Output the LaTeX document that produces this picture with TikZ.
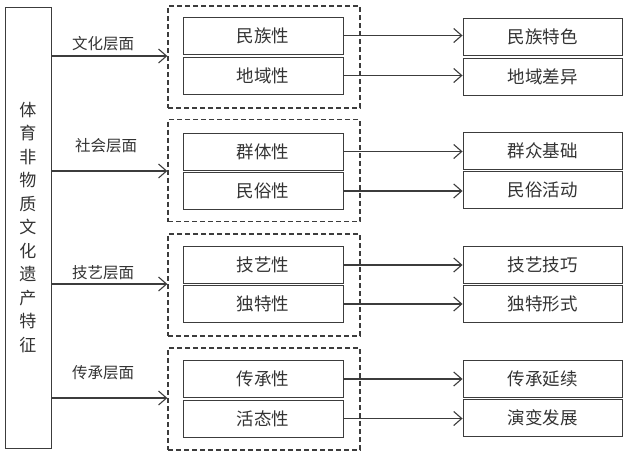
\documentclass[tikz,border=0pt]{standalone}
\usepackage{fontspec}
\newfontfamily\cjk{Noto Sans CJK SC}
\usetikzlibrary{arrows.meta}
\definecolor{ln}{HTML}{3C3C3C}
\definecolor{tx}{HTML}{333333}
\tikzset{
  box/.style={draw=ln, line width=0.9pt, minimum width=160pt, minimum height=37pt, inner sep=0pt,
    font=\cjk\fontsize{17.5}{20}\selectfont, text=tx},
  grp/.style={draw=ln, line width=1.3pt, dash pattern=on 5pt off 3pt, minimum width=192pt, minimum height=102pt, inner sep=0pt},
  arr/.style={draw=ln, line width=1.1pt, -{Straight Barb[length=8pt,width=14pt,line width=1.1pt]}},
  lab/.style={font=\cjk\fontsize{15.5}{18}\selectfont, text=tx, inner sep=0pt}
}
\begin{document}
\begin{tikzpicture}[x=1pt,y=-1pt]
\useasboundingbox (0,0) rectangle (624,453);
\node[draw=ln, line width=0.9pt, minimum width=46pt, minimum height=441pt, inner sep=0pt,
  font=\cjk\fontsize{17}{23.5}\selectfont, text=tx, align=center] (main) at (28,227.5)
  {体\\育\\非\\物\\质\\文\\化\\遗\\产\\特\\征};
% groups
\node[grp] (g1) at (264,57) {};
\node[grp] (g2) at (264,170.5) {};
\node[grp] (g3) at (264,285) {};
\node[grp] (g4) at (264,399) {};
% inner boxes
\node[box] (a1) at (263,35.5) {民族性};
\node[box] (a2) at (263,75.5) {地域性};
\node[box] (b1) at (263,151.5) {群体性};
\node[box] (b2) at (263,191) {民俗性};
\node[box] (c1) at (263,265) {技艺性};
\node[box] (c2) at (263,304) {独特性};
\node[box] (d1) at (263,379) {传承性};
\node[box] (d2) at (263,418.5) {活态性};
% right boxes
\node[box, minimum width=159pt] (ra1) at (542.5,36.5) {民族特色};
\node[box, minimum width=159pt] (ra2) at (542.5,76.5) {地域差异};
\node[box, minimum width=159pt] (rb1) at (542.5,150.5) {群众基础};
\node[box, minimum width=159pt] (rb2) at (542.5,189.5) {民俗活动};
\node[box, minimum width=159pt] (rc1) at (542.5,264.5) {技艺技巧};
\node[box, minimum width=159pt] (rc2) at (542.5,303.5) {独特形式};
\node[box, minimum width=159pt] (rd1) at (542.5,379) {传承延续};
\node[box, minimum width=159pt] (rd2) at (542.5,418) {演变发展};
% main arrows
\coordinate (m1) at (51,56);
\coordinate (m2) at (51,171);
\coordinate (m3) at (51,284);
\coordinate (m4) at (51,398);
\draw[arr] (m1) -- (m1 -| g1.west);
\draw[arr] (m2) -- (m2 -| g2.west);
\draw[arr] (m3) -- (m3 -| g3.west);
\draw[arr] (m4) -- (m4 -| g4.west);
\node[lab] (l1) at (103,44) {文化层面};
\node[lab] (l2) at (106,146) {社会层面};
\node[lab] (l3) at (103,273) {技艺层面};
\node[lab] (l4) at (103,373) {传承层面};
% right arrows
\foreach \s/\t in {a1/ra1,a2/ra2,b1/rb1,b2/rb2,c1/rc1,c2/rc2,d1/rd1,d2/rd2}{
  \draw[arr] (\s.east) -- (\s.east -| \t.west);
}
\end{tikzpicture}
\end{document}
